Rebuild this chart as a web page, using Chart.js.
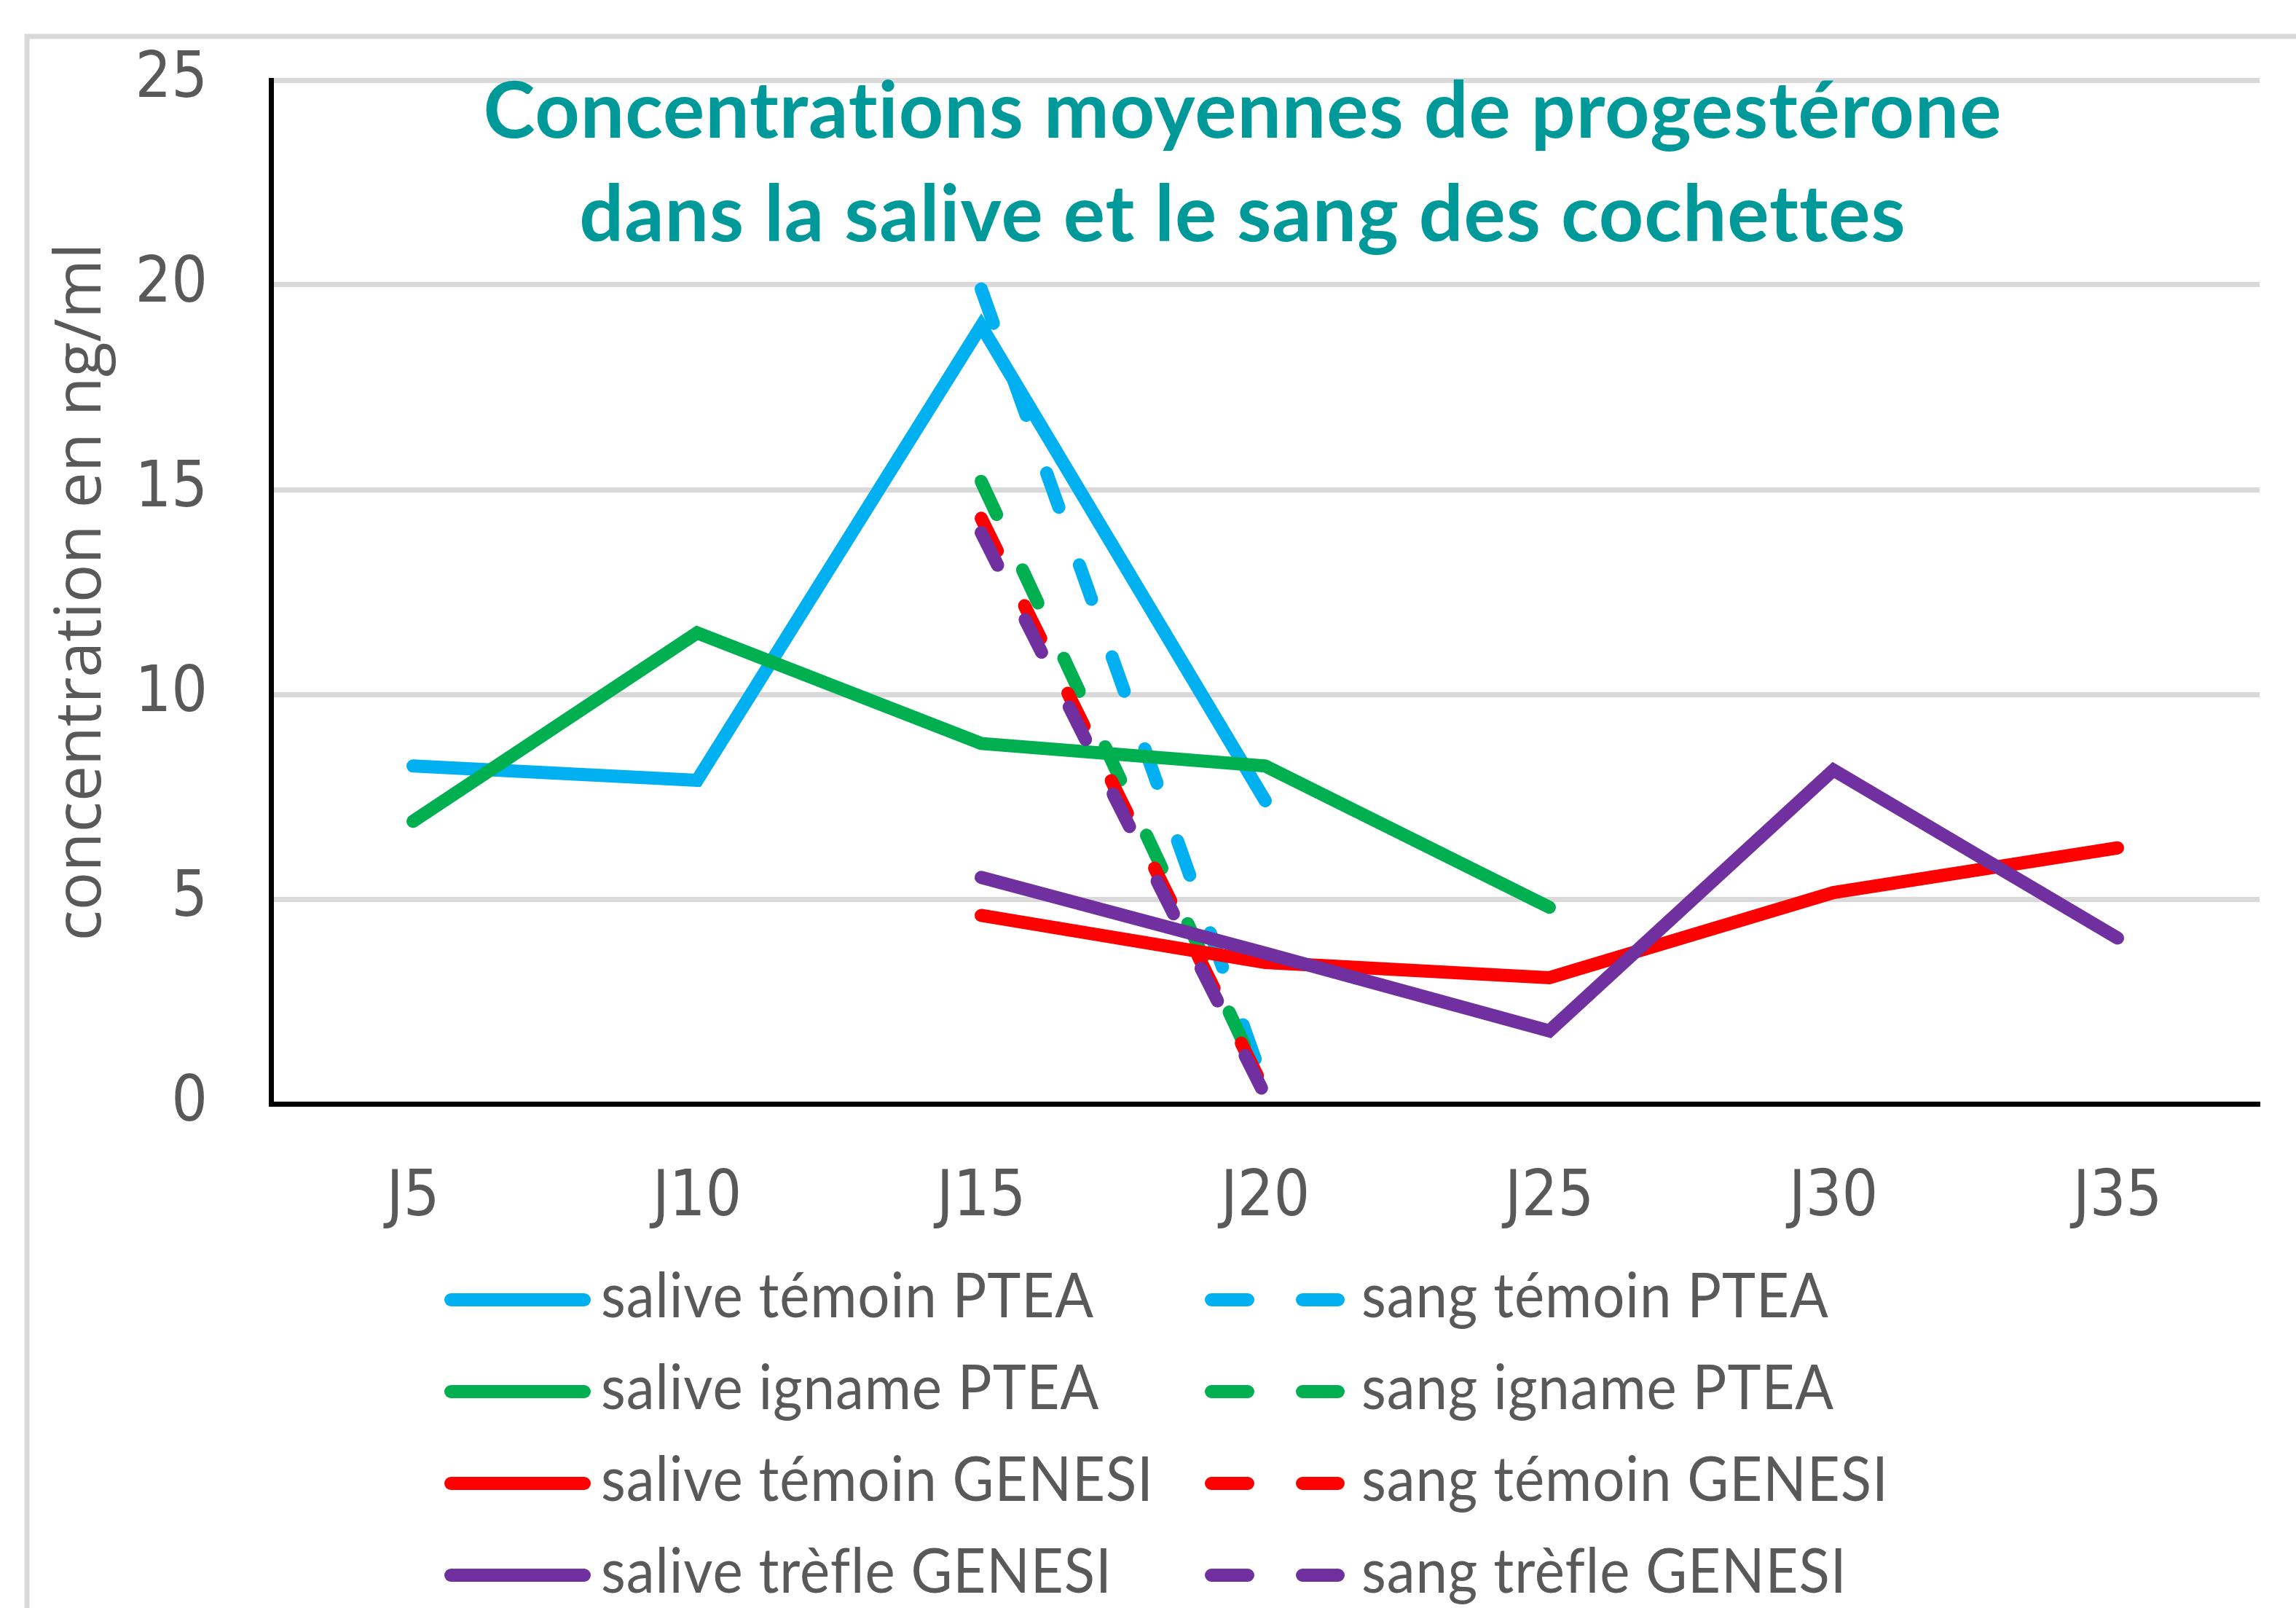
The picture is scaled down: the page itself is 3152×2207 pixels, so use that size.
<!DOCTYPE html>
<html>
<head>
<meta charset="utf-8">
<script src="https://cdn.jsdelivr.net/npm/chart.js@4.4.1/dist/chart.umd.min.js"></script>
<style>
html,body{margin:0;padding:0;background:#fff;overflow:hidden}
#wrap{position:absolute;left:0;top:0;width:3152px;height:2207px}
</style>
</head>
<body>
<div id="wrap"><canvas id="c" width="3152" height="2207"></canvas></div>
<script>
// ---------- data ----------
const categories = ['J5', 'J10', 'J15', 'J20', 'J25', 'J30', 'J35'];

const saliveTemoinPTEA   = [8.25, 7.9, 19.0, 7.4, null, null, null];
const sangTemoinPTEA     = [null, null, 19.9, 0.4, null, null, null];
const saliveIgnamePTEA   = [6.9, 11.5, 8.8, 8.25, 4.8, null, null];
const sangIgnamePTEA     = [null, null, 15.2, 0.35, null, null, null];
const saliveTemoinGENESI = [null, null, 4.6, 3.45, 3.08, 5.16, 6.25];
const sangTemoinGENESI   = [null, null, 14.3, 0.3, null, null, null];
const saliveTrefleGENESI = [null, null, 5.53, 3.68, 1.78, 8.15, 4.05];
const sangTrefleGENESI   = [null, null, 13.95, 0.2, null, null, null];

const seriesLabels = [
  'salive témoin PTEA', 'sang témoin PTEA',
  'salive igname PTEA', 'sang igname PTEA',
  'salive témoin GENESI', 'sang témoin GENESI',
  'salive trèfle GENESI', 'sang trèfle GENESI'
];
const seriesValues = [
  saliveTemoinPTEA, sangTemoinPTEA,
  saliveIgnamePTEA, sangIgnamePTEA,
  saliveTemoinGENESI, sangTemoinGENESI,
  saliveTrefleGENESI, sangTrefleGENESI
];
const seriesColors = ['#00B0F0', '#00B0F0', '#00B050', '#00B050', '#FF0000', '#FF0000', '#7030A0', '#7030A0'];
const seriesDashed = [false, true, false, true, false, true, false, true];

const yMin = 0, yMax = 25, yStep = 5;
const titleLines = ['Concentrations moyennes de progestérone', 'dans la salive et le sang des cochettes'];
const yAxisTitle = 'concentration en ng/ml';

// ---------- fonts ----------
function hasFont(name) {
  const c = document.createElement('canvas').getContext('2d');
  const t = 'abcdefghijklmnopqrstuvwxyzJ0123456789';
  let diff = false;
  for (const fb of ['monospace', 'serif']) {
    c.font = '72px ' + fb; const a = c.measureText(t).width;
    c.font = '72px "' + name + '", ' + fb; const b = c.measureText(t).width;
    if (a !== b) diff = true;
  }
  return diff;
}
const narrowFont = hasFont('Liberation Sans Narrow') ? 'Liberation Sans Narrow'
  : (hasFont('DejaVu Sans Condensed') ? 'DejaVu Sans Condensed' : 'Lato');
const mctx = document.createElement('canvas').getContext('2d');
function textW(font, s) { mctx.font = font; return mctx.measureText(s).width; }

const GRAY = '#595959';
const TEAL = '#009999';
const tickSize = 87;
const yTitleSize = Math.round(100 * 957 / textW('100px "Open Sans"', yAxisTitle));

// ---------- decorations plugin (frame, title, legend) ----------
const decor = {
  id: 'decor',
  beforeDraw(chart) {
    const c = chart.ctx;
    c.save();
    c.fillStyle = '#fff';
    c.fillRect(0, 0, chart.width, chart.height);
    c.strokeStyle = '#D9D9D9';
    c.lineWidth = 7;
    c.strokeRect(37, 50, 4000, 4000);
    c.restore();
  },
  afterDraw(chart) {
    const c = chart.ctx;
    const a = chart.chartArea;
    c.save();
    if ('letterSpacing' in c) c.letterSpacing = '1px';
    // title inside plot area
    const tFont = 'bold 108px Lato';
    c.font = tFont;
    const sxT = 2085 / c.measureText(titleLines[0]).width;
    c.fillStyle = TEAL;
    c.textAlign = 'center';
    c.textBaseline = 'alphabetic';
    const tcx = a.left + 1334;
    [a.top + 79, a.top + 221].forEach((by, i) => {
      c.save(); c.translate(tcx, by); c.scale(sxT, 1); c.fillText(titleLines[i], 0, 0); c.restore();
    });
    // legend: 2 columns, 4 rows
    const lFont = '85px Lato';
    c.font = lFont;
    const sxL = 677 / c.measureText(seriesLabels[0]).width;
    const ds = chart.data.datasets;
    for (let r = 0; r < 4; r++) {
      const cy = a.bottom + 269 + r * 126;
      for (let col = 0; col < 2; col++) {
        const d = ds[r * 2 + col];
        const x0 = col === 0 ? 619 : 1663;
        const x1 = col === 0 ? 802 : 1837;
        const tx = col === 0 ? 825 : 1869;
        c.save();
        c.strokeStyle = d.borderColor;
        c.lineWidth = 18;
        c.lineCap = 'round';
        c.setLineDash(col === 0 ? [] : [50, 75]);
        c.beginPath(); c.moveTo(x0, cy); c.lineTo(x1, cy); c.stroke();
        c.restore();
        c.save();
        c.font = lFont; c.fillStyle = GRAY; c.textAlign = 'left'; c.textBaseline = 'alphabetic';
        c.translate(tx, cy + 24); c.scale(sxL, 1); c.fillText(d.label, 0, 0);
        c.restore();
      }
    }
    c.restore();
  }
};

// ---------- chart ----------
const datasets = seriesLabels.map((lab, i) => ({
  label: lab,
  data: seriesValues[i],
  borderColor: seriesColors[i],
  backgroundColor: seriesColors[i],
  borderWidth: 18,
  borderDash: seriesDashed[i] ? [50, 84] : [],
  borderCapStyle: 'round',
  borderJoinStyle: 'miter',
  pointRadius: 0,
  fill: false,
  tension: 0,
  spanGaps: false,
  order: seriesLabels.length - i
}));

new Chart(document.getElementById('c').getContext('2d'), {
  type: 'line',
  data: { labels: categories, datasets },
  options: {
    responsive: false,
    animation: false,
    devicePixelRatio: 1,
    layout: { padding: { left: 0, right: 50, top: 110, bottom: 0 } },
    plugins: { legend: { display: false }, title: { display: false }, tooltip: { enabled: false } },
    scales: {
      x: {
        offset: true,
        grid: { display: false, drawTicks: false },
        border: { display: true, color: '#000', width: 7 },
        ticks: { color: GRAY, font: { family: narrowFont, size: tickSize }, padding: 78, maxRotation: 0 },
        afterFit(s) { s.height = 692; }
      },
      y: {
        min: yMin, max: yMax,
        grid: { color: '#D9D9D9', lineWidth: 7, drawTicks: false },
        border: { display: true, color: '#000', width: 7 },
        ticks: { stepSize: yStep, color: GRAY, font: { family: narrowFont, size: tickSize }, padding: 87 },
        title: { display: true, text: yAxisTitle, color: GRAY, font: { family: 'Open Sans', size: yTitleSize }, padding: { top: 60, bottom: 0 } },
        afterFit(s) { s.width = 372; s.paddingTop = 0; s.paddingBottom = 0; }
      }
    }
  },
  plugins: [decor]
});
</script>
</body>
</html>
